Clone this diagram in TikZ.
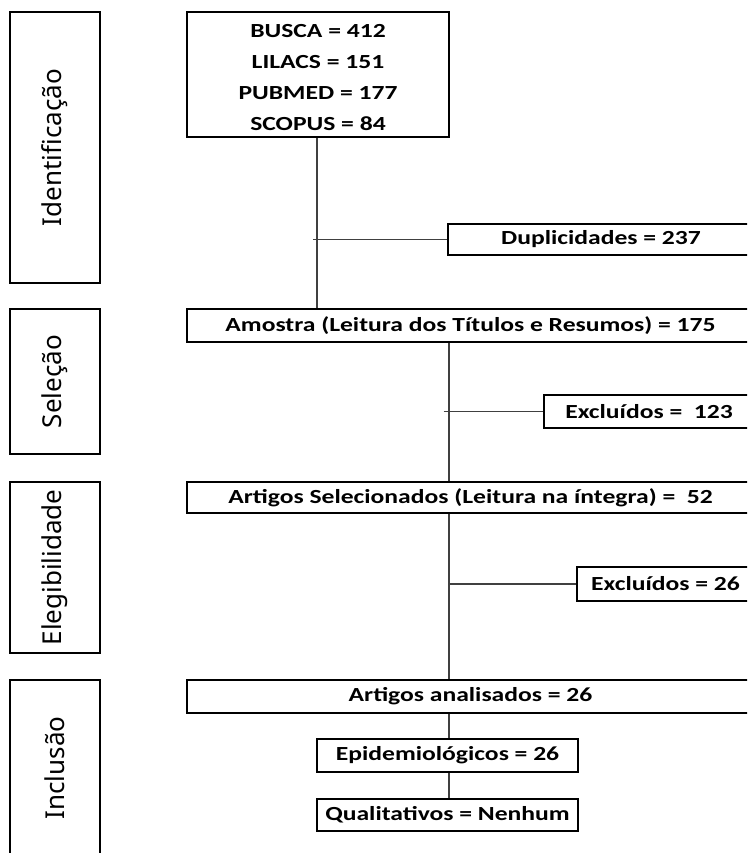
\documentclass[tikz,border=0pt]{standalone}
\usepackage{fontspec}
\setmainfont{Carlito}[FakeStretch=1.28]
\newfontfamily\labfont{Noto Sans}
\begin{document}
\begin{tikzpicture}[x=0.75pt,y=-0.75pt,
  box/.style={draw=black,line width=1.6pt,inner sep=0pt,font=\fontsize{15}{23.25}\selectfont\bfseries,align=center},
  phase/.style={draw=black,line width=1.6pt,inner sep=0pt,rotate=90,minimum height=67.5pt,font=\labfont\fontsize{19.5}{22}\selectfont},
  link/.style={draw=black!75,line width=1.1pt}]
\useasboundingbox (0,0) rectangle (747,853);
\clip (0,0) rectangle (747,853);
% phase boxes
\node[phase,minimum width=203.25pt] (ident) at (55,147.5) {Identificação};
\node[phase,minimum width=108.75pt] (sel) at (55,381.5) {Seleção};
\node[phase,minimum width=128.25pt] (eleg) at (55,567.5) {Elegibilidade};
\node[phase,minimum width=132pt] (incl) at (55,768) {Inclusão};
% flow boxes
\node[box,minimum width=196.5pt,minimum height=93.75pt] (top) at (318,74.5)
  {\rule{0pt}{15pt}BUSCA = 412\\LILACS = 151\\PUBMED = 177\\SCOPUS = 84};
\node[box,minimum width=229.5pt,minimum height=23.25pt] (dup) at (601,239.5) {Duplicidades = 237};
\node[box,minimum width=425.25pt,minimum height=24.75pt] (amostra) at (470.5,325.5) {Amostra (Leitura dos Títulos e Resumos) = 175};
\node[box,minimum width=157.5pt,minimum height=24.75pt] (exc1) at (649,411.5) {Excluídos = \ 123};
\node[box,minimum width=425.25pt,minimum height=23.25pt] (artsel) at (470.5,497.5) {Artigos Selecionados (Leitura na íntegra) = \ 52};
\node[box,minimum width=132.75pt,minimum height=25.5pt] (exc2) at (665.5,584) {Excluídos = 26};
\node[box,minimum width=425.25pt,minimum height=24.75pt] (artan) at (470.5,696.5) {Artigos analisados = 26};
\node[box,minimum width=195.75pt,minimum height=24.75pt] (epi) at (447.5,755.5) {Epidemiológicos = 26};
\node[box,minimum width=195.75pt,minimum height=24pt] (qual) at (447.5,815) {Qualitativos = Nenhum};
% connectors
\coordinate (sp1) at (317,0);
\coordinate (sp2) at (449,0);
\draw[link] (top.south -| sp1) -- (amostra.north -| sp1);
\draw[link] ([xshift=-3pt]sp1 |- dup.west) -- (dup.west);
\draw[link] (amostra.south -| sp2) -- (artsel.north -| sp2);
\draw[link] ([xshift=-4pt]sp2 |- exc1.west) -- (exc1.west);
\draw[link] (artsel.south -| sp2) -- (artan.north -| sp2);
\draw[link] (sp2 |- exc2.west) -- (exc2.west);
\draw[link] (artan.south -| sp2) -- (epi.north -| sp2);
\draw[link] (epi.south -| sp2) -- (qual.north -| sp2);
\end{tikzpicture}
\end{document}
